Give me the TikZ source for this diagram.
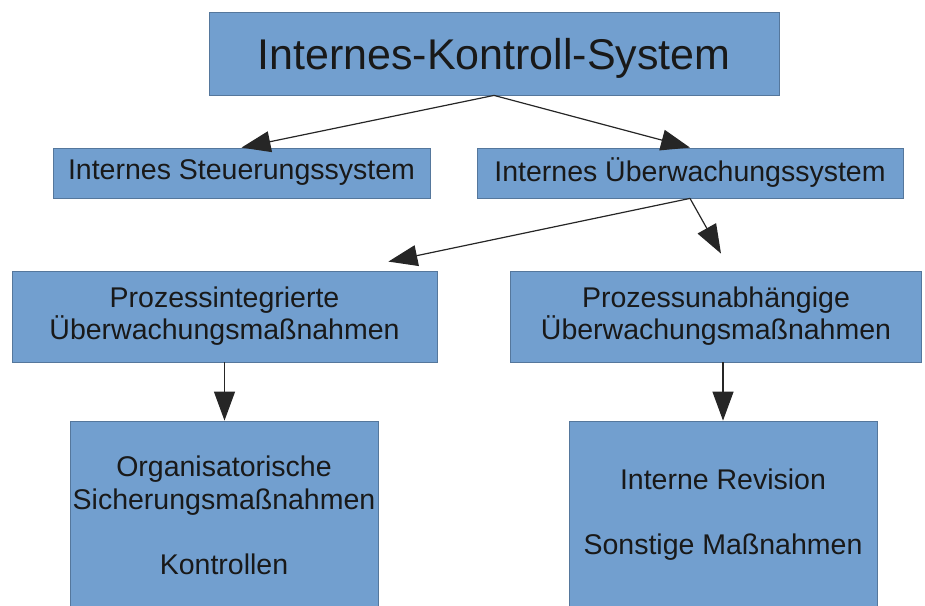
\documentclass[tikz,border=0pt]{standalone}
\usepackage{fontspec}
\setmainfont{Liberation Sans}
\usepackage{xcolor}
\usetikzlibrary{arrows.meta,positioning,calc}

\definecolor{boxblue}{HTML}{729FCF}
\definecolor{boxline}{HTML}{55779C}

\begin{document}
\begin{tikzpicture}[
    x=1pt, y=-1pt,
    box/.style={rectangle, draw=boxline, line width=0.8pt, fill=boxblue, align=center, inner sep=0pt, text=black!90, font=\fontsize{28.5}{32}\selectfont},
    link/.style={draw=black!85, line width=1.2pt, -{Triangle[length=29pt,width=21pt]}},
]
    \useasboundingbox (0,0) rectangle (925,605);
    \clip (0,0) rectangle (925,605);

    \node[box, minimum width=570pt, minimum height=83pt, text depth=0pt, font=\fontsize{43}{48}\selectfont] (ics) at (494,53.5) {Internes-Kontroll-System};
    \node[box, minimum width=377pt, minimum height=50pt] (steuer) at (241.5,173) {Internes Steuerungssystem};
    \node[box, minimum width=426pt, minimum height=50pt] (ueber) at (690,173) {Internes Überwachungssystem};
    \node[box, minimum width=425pt, minimum height=91pt] (integ) at (224.5,316.5) {Prozessintegrierte\\Überwachungsmaßnahmen};
    \node[box, minimum width=411pt, minimum height=91pt] (unabh) at (716,316.5) {Prozessunabhängige\\Überwachungsmaßnahmen};
    \node[box, minimum width=308pt, minimum height=188pt] (org) at (224,515) {Organisatorische\\[1pt]Sicherungsmaßnahmen\\[33pt]Kontrollen};
    \node[box, minimum width=308pt, minimum height=188pt] (rev) at (723,515) {Interne Revision\\[33pt]Sonstige Maßnahmen};

    % free ends above the third row
    \coordinate (integtip) at ($(integ.north east)+(-49,-9)$);
    \coordinate (unabhtip) at ($(unabh.north)+(5,-17)$);

    \draw[link] (ics.south) -- (steuer.north);
    \draw[link] (ics.south) -- (ueber.north);
    \draw[link] (ueber.south) -- (integtip);
    \draw[link] (ueber.south) -- (unabhtip);
    \draw[link] (integ.south) -- (integ.south |- org.north);
    \draw[link] (rev.north |- unabh.south) -- (rev.north);
\end{tikzpicture}
\end{document}
